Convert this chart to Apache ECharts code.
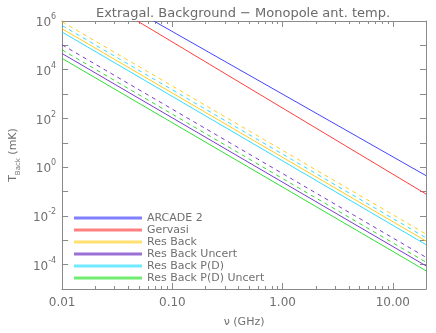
<!DOCTYPE html>
<html>
<head>
<meta charset="utf-8">
<title>Extragal. Background</title>
<script src="https://cdn.jsdelivr.net/npm/echarts@6/dist/echarts.min.js"></script>
</head>
<body style="margin:0">
<div id="main" style="width:436px;height:333px"></div>
<script>
// values: [GHz, mK] at the ends of each straight line
var arcade2 = [[0.0678, 1e6], [20, 0.45]];
var gervasi = [[0.0481, 1e6], [20, 0.079]];
var resBack = [[0.01, 4.8e5], [20, 9.3e-4]];
var resBackHi = [[0.01, 9.3e5], [20, 1.8e-3]];
var resBackUnc = [[0.01, 4.6e4], [20, 8.9e-5]];
var resBackUncHi = [[0.01, 1.05e5], [20, 2.0e-4]];
var resBackPD = [[0.01, 3.5e5], [20, 6.6e-4]];
var resBackPDHi = [[0.01, 6.5e5], [20, 1.26e-3]];
var resBackPDUnc = [[0.01, 2.9e4], [20, 5.6e-5]];
var resBackPDUncHi = [[0.01, 6.5e4], [20, 1.26e-4]];

var xMajor = [0.01, 0.1, 1, 10];
var xMinor = [0.02, 0.03, 0.04, 0.05, 0.06, 0.07, 0.08, 0.09,
              0.2, 0.3, 0.4, 0.5, 0.6, 0.7, 0.8, 0.9,
              2, 3, 4, 5, 6, 7, 8, 9];
var yTicks = [1e-5, 1e-4, 1e-3, 1e-2, 1e-1, 1, 10, 100, 1e3, 1e4, 1e5, 1e6];
var yLabels = [1e-4, 1e-2, 1, 100, 1e4, 1e6];

var grey = '#8a8a8a';
var txt = '#707070';
var font = 'DejaVu Sans';

function line(name, data, color, light, dashed) {
    return {
        name: name, type: 'line', data: data, showSymbol: false, symbol: 'none',
        animation: false, silent: true,
        itemStyle: { color: light },
        lineStyle: { color: color, width: 1, type: dashed ? [4, 4] : 'solid' }
    };
}

function xAxis(pos, ticks, len, labels) {
    return {
        type: 'log', min: 0.01, max: 20, position: pos, gridIndex: 0,
        axisLine: { show: true, lineStyle: { color: grey } },
        splitLine: { show: false },
        axisTick: { show: true, inside: true, length: len, customValues: ticks, lineStyle: { color: grey } },
        axisLabel: labels ? {
            show: true, customValues: xMajor, color: txt, fontFamily: font, fontSize: 12, margin: 8,
            formatter: function (v) { return v.toFixed(2); }
        } : { show: false },
        name: labels ? 'ν (GHz)' : '', nameLocation: 'middle', nameGap: 28,
        nameTextStyle: { color: txt, fontFamily: font, fontSize: 11 }
    };
}

var myChart = echarts.init(document.getElementById('main'));

var option = {
    backgroundColor: '#fff',
    title: {
        text: 'Extragal. Background − Monopole ant. temp.',
        left: 238, top: 2, textAlign: 'center',
        textStyle: { color: '#6a6a6a', fontFamily: font, fontSize: 13, fontWeight: 'normal' }
    },
    grid: { left: 50, right: 10, top: 21, bottom: 35 },
    legend: {
        orient: 'vertical', left: 69, top: 207, itemWidth: 68, itemHeight: 3, itemGap: 0,
        icon: 'rect',
        data: ['ARCADE 2', 'Gervasi', 'Res Back', 'Res Back Uncert', 'Res Back P(D)', 'Res Back P(D) Uncert'],
        textStyle: { color: txt, fontFamily: font, fontSize: 11, lineHeight: 12 }
    },
    xAxis: [
        xAxis('bottom', xMajor, 6, true),
        xAxis('bottom', xMinor, 3, false),
        xAxis('top', xMajor, 6, false),
        xAxis('top', xMinor, 3, false)
    ],
    yAxis: [
        {
            type: 'log', min: 1e-5, max: 1e6, position: 'left',
            axisLine: { show: true, lineStyle: { color: grey } },
            splitLine: { show: false },
            axisTick: { show: true, inside: true, length: 6, customValues: yTicks, lineStyle: { color: grey } },
            axisLabel: {
                show: true, customValues: yLabels, color: txt, fontFamily: font, fontSize: 12, margin: 6,
                formatter: function (v) {
                    var e = Math.round(Math.log10(v));
                    return '{b|10}{sup|' + (e < 0 ? '-' : '') + Math.abs(e) + '}';
                },
                rich: {
                    b: { color: txt, fontFamily: font, fontSize: 12, lineHeight: 16, verticalAlign: 'bottom' },
                    sup: { color: txt, fontFamily: font, fontSize: 8, lineHeight: 16, verticalAlign: 'top' }
                }
            },
            name: '{t|T}{sub|Back}{t| (mK)}', nameLocation: 'middle', nameGap: 36,
            nameTextStyle: {
                rich: {
                    t: { color: txt, fontFamily: font, fontSize: 11, lineHeight: 14, verticalAlign: 'top' },
                    sub: { color: txt, fontFamily: font, fontSize: 7, lineHeight: 14, verticalAlign: 'bottom' }
                }
            }
        },
        {
            type: 'log', min: 1e-5, max: 1e6, position: 'right',
            axisLine: { show: true, lineStyle: { color: grey } },
            splitLine: { show: false },
            axisTick: { show: true, inside: true, length: 6, customValues: yTicks, lineStyle: { color: grey } },
            axisLabel: { show: false }
        }
    ],
    series: [
        line('ARCADE 2', arcade2, '#4444ff', '#8080ff', false),
        line('Gervasi', gervasi, '#ff4040', '#ff8080', false),
        line('Res Back', resBack, '#ffcc22', '#ffe070', false),
        line('Res Back hi', resBackHi, '#ffcc22', '#ffe070', true),
        line('Res Back Uncert', resBackUnc, '#7a3ccc', '#9b70d6', false),
        line('Res Back Uncert hi', resBackUncHi, '#7a3ccc', '#9b70d6', true),
        line('Res Back P(D)', resBackPD, '#33ddff', '#70eaff', false),
        line('Res Back P(D) hi', resBackPDHi, '#33ddff', '#70eaff', true),
        line('Res Back P(D) Uncert', resBackPDUnc, '#33dd33', '#70ec70', false),
        line('Res Back P(D) Uncert hi', resBackPDUncHi, '#33dd33', '#70ec70', true)
    ]
};

myChart.setOption(option);
</script>
</body>
</html>
